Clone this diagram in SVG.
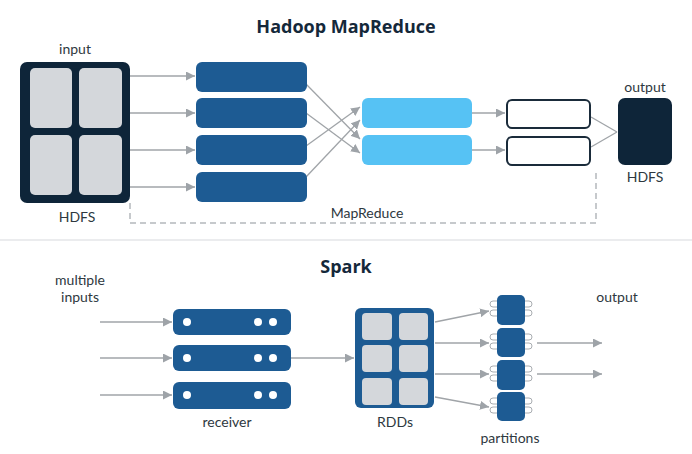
<svg xmlns="http://www.w3.org/2000/svg" width="692" height="454" viewBox="0 0 692 454">
<defs>
<marker id="ah" viewBox="0 0 10 10" refX="10" refY="5" markerWidth="9" markerHeight="9" markerUnits="userSpaceOnUse" orient="auto">
<path d="M0,0 L10,5 L0,10 z" fill="#9ea3a8"/>
</marker>
<style>
.title{font-family:"Open Sans","DejaVu Sans",sans-serif;font-weight:bold;font-size:18px;fill:#14283a;text-anchor:middle}
.lbl{font-family:Lato,"Liberation Sans",sans-serif;font-size:14px;fill:#2e3840;text-anchor:middle}
.navy{fill:#0e2539}
.blue{fill:#1d5b93}
.lblue{fill:#56c2f4}
.cell{fill:#d4d7db}
.out{fill:#ffffff;stroke:#1a2b3a;stroke-width:2}
.conn{stroke:#a0a4a8;stroke-width:1.3;fill:none}
.dash{stroke:#b4b8bc;stroke-width:1.5;fill:none;stroke-dasharray:6 4}
.dot{fill:#ffffff}
.pill{fill:#ffffff;stroke:#a9adb1;stroke-width:1}
</style>
</defs>
<rect width="692" height="454" fill="#ffffff"/>

<text class="title" x="346" y="33">Hadoop MapReduce</text>
<text class="title" x="346" y="273">Spark</text>
<line x1="0" y1="240" x2="692" y2="240" stroke="#e4e6e8" stroke-width="1.5"/>

<g id="connectors">
<path class="dash" d="M130,203 V223 H596 V173"/>
<line class="conn" x1="130" y1="76" x2="195" y2="76" marker-end="url(#ah)"/>
<line class="conn" x1="130" y1="113" x2="195" y2="113" marker-end="url(#ah)"/>
<line class="conn" x1="130" y1="150" x2="195" y2="150" marker-end="url(#ah)"/>
<line class="conn" x1="130" y1="187" x2="195" y2="187" marker-end="url(#ah)"/>
<line class="conn" x1="306" y1="84" x2="360" y2="139" marker-end="url(#ah)"/>
<line class="conn" x1="306" y1="113" x2="360" y2="153" marker-end="url(#ah)"/>
<line class="conn" x1="306" y1="146" x2="360" y2="107" marker-end="url(#ah)"/>
<line class="conn" x1="306" y1="177" x2="360" y2="120" marker-end="url(#ah)"/>
<line class="conn" x1="472" y1="113" x2="505" y2="113" marker-end="url(#ah)"/>
<line class="conn" x1="472" y1="150" x2="505" y2="150" marker-end="url(#ah)"/>
<line class="conn" x1="591" y1="117" x2="617" y2="132"/>
<line class="conn" x1="591" y1="147" x2="617" y2="132"/>
<line class="conn" x1="100" y1="322" x2="172" y2="322" marker-end="url(#ah)"/>
<line class="conn" x1="100" y1="358" x2="172" y2="358" marker-end="url(#ah)"/>
<line class="conn" x1="100" y1="395" x2="172" y2="395" marker-end="url(#ah)"/>
<line class="conn" x1="291" y1="358" x2="354" y2="358" marker-end="url(#ah)"/>
<line class="conn" x1="435" y1="322" x2="489" y2="311" marker-end="url(#ah)"/>
<line class="conn" x1="435" y1="343" x2="489" y2="343" marker-end="url(#ah)"/>
<line class="conn" x1="435" y1="374" x2="489" y2="374" marker-end="url(#ah)"/>
<line class="conn" x1="435" y1="397" x2="489" y2="407" marker-end="url(#ah)"/>
<line class="conn" x1="537" y1="343" x2="602" y2="343" marker-end="url(#ah)"/>
<line class="conn" x1="537" y1="374" x2="602" y2="374" marker-end="url(#ah)"/>
</g>

<g id="hdfs-input">
<text class="lbl" x="75" y="54">input</text>
<rect class="navy" x="20" y="62" width="110" height="141" rx="7"/>
<rect class="cell" x="30" y="68" width="42" height="60" rx="5"/>
<rect class="cell" x="79" y="68" width="43" height="60" rx="5"/>
<rect class="cell" x="30" y="135" width="42" height="60" rx="5"/>
<rect class="cell" x="79" y="135" width="43" height="60" rx="5"/>
<text class="lbl" x="77" y="222">HDFS</text>
</g>

<g id="map-tasks">
<rect class="blue" x="196" y="62" width="111" height="30" rx="6"/>
<rect class="blue" x="196" y="98" width="111" height="30" rx="6"/>
<rect class="blue" x="196" y="135" width="111" height="30" rx="6"/>
<rect class="blue" x="196" y="172" width="111" height="30" rx="6"/>
</g>

<g id="reduce-tasks">
<rect class="lblue" x="362" y="98" width="110" height="30" rx="6"/>
<rect class="lblue" x="362" y="135" width="110" height="30" rx="6"/>
</g>

<g id="results">
<rect class="out" x="507" y="100" width="83" height="28" rx="5"/>
<rect class="out" x="507" y="137" width="83" height="28" rx="5"/>
</g>

<g id="hdfs-output">
<text class="lbl" x="645" y="92">output</text>
<rect class="navy" x="618" y="98" width="54" height="67" rx="7"/>
<text class="lbl" x="645" y="182">HDFS</text>
</g>

<g id="mapreduce-label">
<text class="lbl" x="367" y="218">MapReduce</text>
</g>

<g id="multiple-inputs">
<text class="lbl" x="80" y="285">multiple</text>
<text class="lbl" x="80" y="302">inputs</text>
</g>

<g id="receiver">
<rect class="blue" x="173" y="309" width="118" height="26" rx="6"/>
<circle class="dot" cx="187" cy="322" r="4"/>
<circle class="dot" cx="258" cy="322" r="4"/>
<circle class="dot" cx="273" cy="322" r="4"/>
<rect class="blue" x="173" y="345" width="118" height="26" rx="6"/>
<circle class="dot" cx="187" cy="358" r="4"/>
<circle class="dot" cx="258" cy="358" r="4"/>
<circle class="dot" cx="273" cy="358" r="4"/>
<rect class="blue" x="173" y="382" width="118" height="27" rx="6"/>
<circle class="dot" cx="187" cy="395" r="4"/>
<circle class="dot" cx="258" cy="395" r="4"/>
<circle class="dot" cx="273" cy="395" r="4"/>
<text class="lbl" x="227" y="427">receiver</text>
</g>

<g id="rdds">
<rect class="blue" x="355" y="308" width="79" height="100" rx="6"/>
<rect class="cell" x="362" y="313" width="30" height="27" rx="4"/>
<rect class="cell" x="399" y="313" width="29" height="27" rx="4"/>
<rect class="cell" x="362" y="345" width="30" height="27" rx="4"/>
<rect class="cell" x="399" y="345" width="29" height="27" rx="4"/>
<rect class="cell" x="362" y="378" width="30" height="27" rx="4"/>
<rect class="cell" x="399" y="378" width="29" height="27" rx="4"/>
<text class="lbl" x="395" y="427">RDDs</text>
</g>

<g id="partitions">
<g>
<rect class="pill" x="490" y="301" width="10" height="6" rx="3"/>
<rect class="pill" x="490" y="310" width="10" height="6" rx="3"/>
<rect class="pill" x="522" y="301" width="10" height="6" rx="3"/>
<rect class="pill" x="522" y="310" width="10" height="6" rx="3"/>
<rect class="blue" x="497" y="295" width="28" height="30" rx="5"/>
</g>
<g>
<rect class="pill" x="490" y="334" width="10" height="6" rx="3"/>
<rect class="pill" x="490" y="343" width="10" height="6" rx="3"/>
<rect class="pill" x="522" y="334" width="10" height="6" rx="3"/>
<rect class="pill" x="522" y="343" width="10" height="6" rx="3"/>
<rect class="blue" x="497" y="328" width="28" height="29" rx="5"/>
</g>
<g>
<rect class="pill" x="490" y="366" width="10" height="6" rx="3"/>
<rect class="pill" x="490" y="375" width="10" height="6" rx="3"/>
<rect class="pill" x="522" y="366" width="10" height="6" rx="3"/>
<rect class="pill" x="522" y="375" width="10" height="6" rx="3"/>
<rect class="blue" x="497" y="360" width="28" height="30" rx="5"/>
</g>
<g>
<rect class="pill" x="490" y="398" width="10" height="6" rx="3"/>
<rect class="pill" x="490" y="407" width="10" height="6" rx="3"/>
<rect class="pill" x="522" y="398" width="10" height="6" rx="3"/>
<rect class="pill" x="522" y="407" width="10" height="6" rx="3"/>
<rect class="blue" x="497" y="392" width="28" height="29" rx="5"/>
</g>
<text class="lbl" x="510" y="443">partitions</text>
</g>

<g id="spark-output">
<text class="lbl" x="617" y="302">output</text>
</g>
</svg>
